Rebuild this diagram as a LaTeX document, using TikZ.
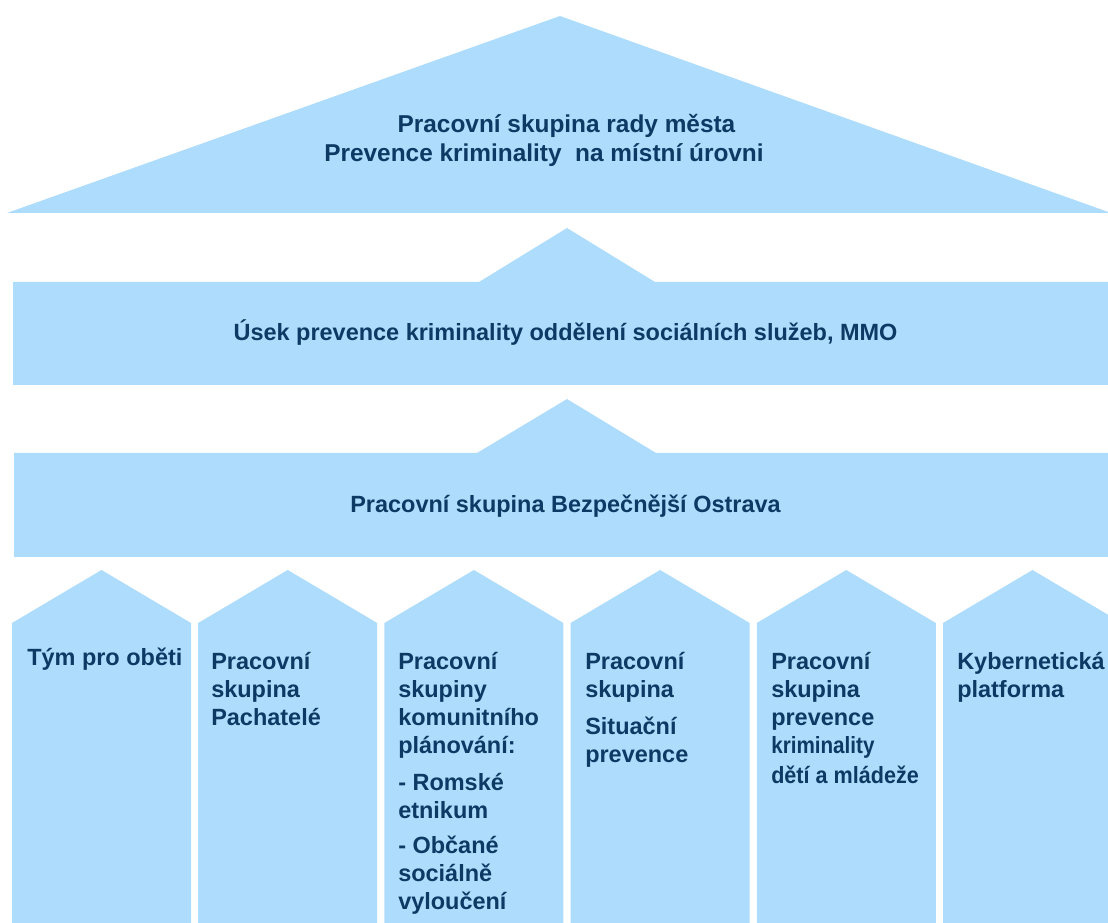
\documentclass[tikz,border=0pt]{standalone}
\usepackage{fontspec}
\usepackage{graphicx}
\setmainfont{Liberation Sans}
\definecolor{fillblue}{RGB}{174,220,252}
\definecolor{navy}{RGB}{12,58,100}
\begin{document}
\begin{tikzpicture}[x=0.75pt,y=-0.75pt,
  blueshape/.style={fill=fillblue, draw=none},
  bigtxt/.style={inner sep=0, text=navy, anchor=base, font=\fontsize{18.3}{22}\selectfont\bfseries},
  bantxt/.style={inner sep=0, text=navy, anchor=base, font=\fontsize{17.6}{21}\selectfont\bfseries},
  coltxt/.style={inner sep=0, text=navy, anchor=north west, align=left, font=\fontsize{17.6}{21}\selectfont\bfseries}]
\useasboundingbox (0,0) rectangle (1108,923);
\clip (0,0) rectangle (1108,923);
% roof
\fill[blueshape] (7,213) -- (560,16) -- (1111,213) -- cycle;
% banner 1
\fill[blueshape] (13,385) -- (13,282) -- (479,282) -- (567,228) -- (655,282) -- (1115,282) -- (1115,385) -- cycle;
% banner 2
\fill[blueshape] (14,557) -- (14,453) -- (477,453) -- (567,399) -- (656,453) -- (1115,453) -- (1115,557) -- cycle;
% columns
\foreach \i in {0,...,5}{
  \pgfmathsetmacro{\l}{12+186.2*\i}
  \fill[blueshape] (\l,930) -- (\l,623) -- (\l+89.5,570) -- (\l+179,623) -- (\l+179,930) -- cycle;
}
% texts
\node[bigtxt] (t1) at (566.5,133) {Pracovní skupina rady města};
\node[bigtxt] (t2) at (544,162) {Prevence kriminality\ \ na místní úrovni};
\node[bantxt] (b1) at (565.5,341) {Úsek prevence kriminality oddělení sociálních služeb, MMO};
\node[bantxt] (b2) at (565.5,513) {Pracovní skupina Bezpečnější Ostrava};
\node[coltxt] (c1) at (27,641) {\rule{0pt}{18pt}Tým pro oběti};
\node[coltxt] (c2) at (211,645) {\rule{0pt}{18pt}Pracovní\\skupina\\Pachatelé};
\node[coltxt] (c3) at (398,645) {\rule{0pt}{18pt}Pracovní\\skupiny\\komunitního\\plánování:\\[7pt]- Romské\\etnikum\\[5.5pt]- Občané\\sociálně\\vyloučení};
\node[coltxt] (c4) at (585,645) {\rule{0pt}{18pt}Pracovní\\skupina\\[6.75pt]Situační\\prevence};
\node[coltxt] (c5) at (771,645) {\rule{0pt}{18pt}Pracovní\\skupina\\prevence\\\scalebox{0.88}[1]{kriminality}\\[1.5pt]\scalebox{0.92}[1]{dětí a mládeže}};
\node[coltxt] (c6) at (957,645) {\rule{0pt}{18pt}Kybernetická\\platforma};
\end{tikzpicture}
\end{document}
